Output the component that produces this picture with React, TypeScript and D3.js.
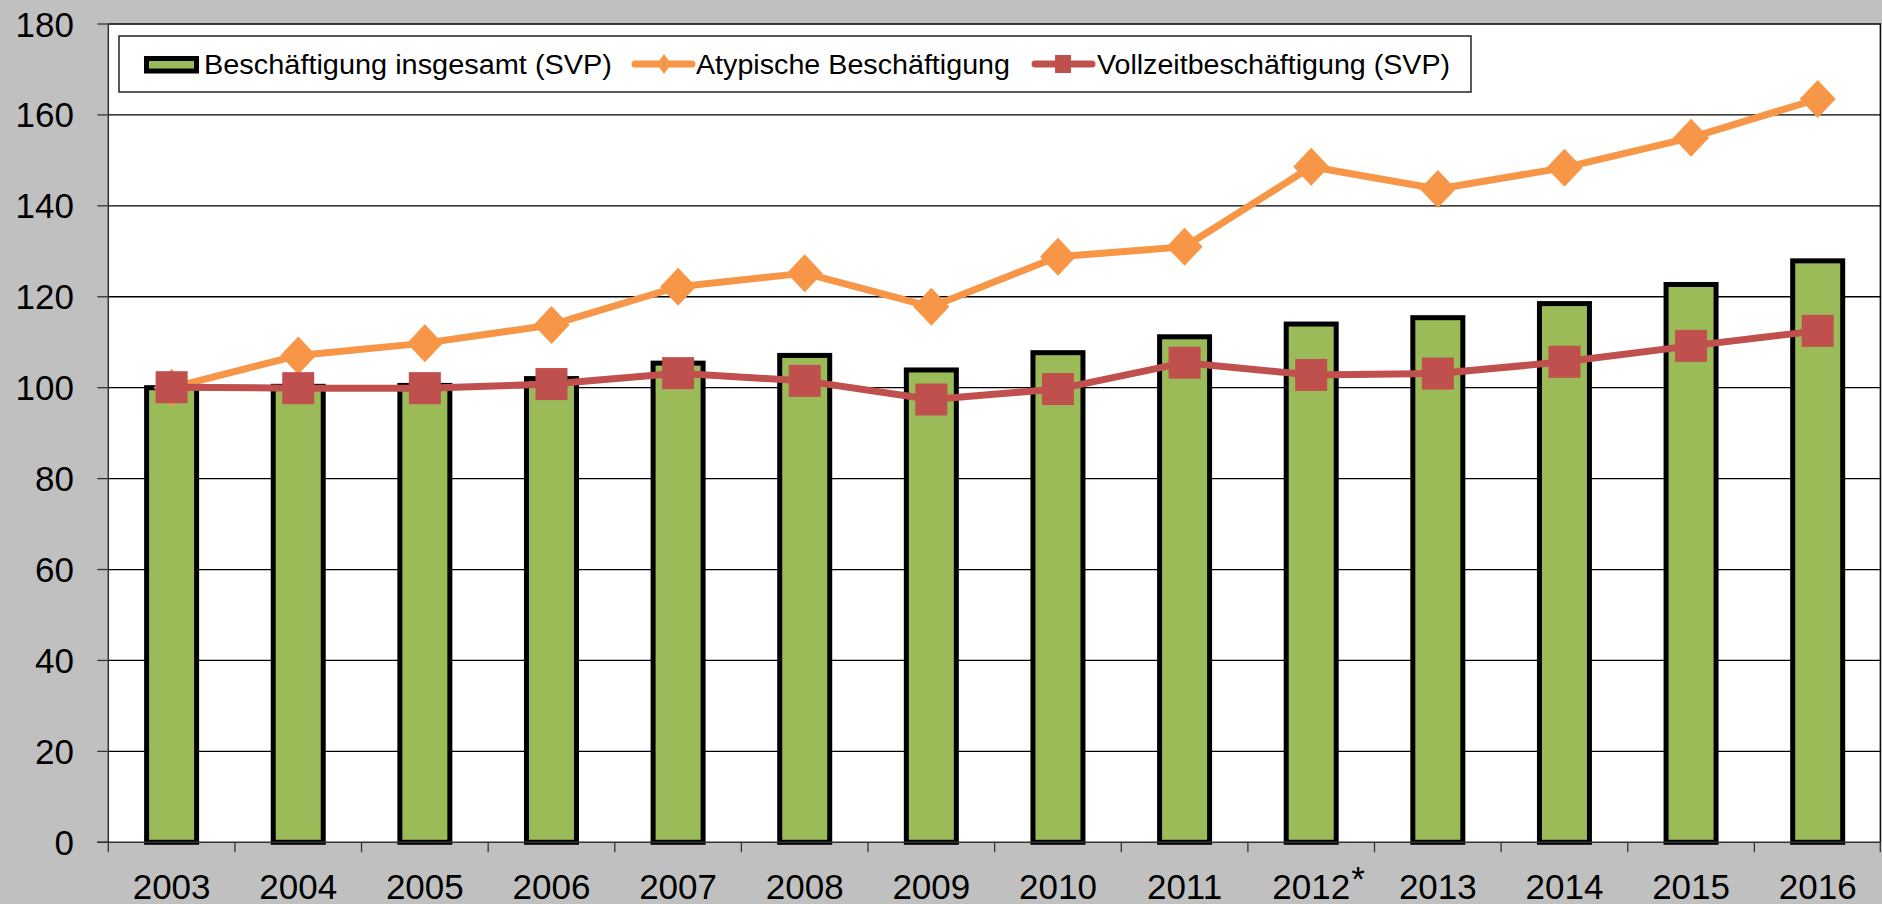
import React, { useEffect, useRef } from "react";
import * as d3 from "d3";

// Index values, 2003 = 100
const years: string[] = [
  "2003", "2004", "2005", "2006", "2007", "2008", "2009",
  "2010", "2011", "2012", "2013", "2014", "2015", "2016",
];
const footnoteYears: string[] = ["2012"];

const beschaeftigungInsgesamt: number[] = [
  100, 100.3, 100.5, 102, 105.4, 107.1, 103.9,
  107.7, 111.2, 114, 115.4, 118.5, 122.7, 127.9,
];
const atypischeBeschaeftigung: number[] = [
  100, 107.1, 109.8, 113.8, 122.2, 125.2, 117.8,
  128.8, 131, 148.6, 143.7, 148.4, 155, 163.5,
];
const vollzeitBeschaeftigung: number[] = [
  100.1, 99.9, 99.9, 100.8, 103.2, 101.5, 97.4,
  99.7, 105.5, 102.8, 103.1, 105.7, 109.2, 112.5,
];

const yTicks: number[] = [0, 20, 40, 60, 80, 100, 120, 140, 160, 180];

const legendLabels: string[] = [
  "Beschäftigung insgesamt (SVP)",
  "Atypische Beschäftigung",
  "Vollzeitbeschäftigung (SVP)",
];

const GREEN = "#9bbb59";
const ORANGE = "#f79646";
const RED = "#c0504d";
const FONT = "'Liberation Sans', Arial, sans-serif";

const W = 1882;
const H = 904;

const App = () => {
  const svgRef = useRef<SVGSVGElement | null>(null);

  useEffect(() => {
    const root = d3.select(svgRef.current);
    root.selectAll("*").remove();

    const left = 108.3;
    const right = 1881;
    const top = 24;
    const bottom = 842.3;

    root
      .append("rect")
      .attr("width", W)
      .attr("height", H)
      .attr("fill", "#c0c0c0");

    const x = d3.scaleBand<string>().domain(years).range([left, right]).padding(0);
    const y = d3.scaleLinear().domain([0, 180]).range([bottom, top]);

    // plot area
    root
      .append("rect")
      .attr("x", left)
      .attr("y", top)
      .attr("width", right - left)
      .attr("height", bottom - top)
      .attr("fill", "#fff");

    // gridlines
    root
      .append("g")
      .selectAll("line")
      .data(yTicks.filter((d) => d > 0))
      .enter()
      .append("line")
      .attr("x1", left)
      .attr("x2", right)
      .attr("y1", (d) => y(d))
      .attr("y2", (d) => y(d))
      .attr("stroke", "#000")
      .attr("stroke-width", 1.3);

    // right border
    root
      .append("line")
      .attr("x1", right - 0.7)
      .attr("x2", right - 0.7)
      .attr("y1", top)
      .attr("y2", bottom)
      .attr("stroke", "#000")
      .attr("stroke-width", 1.3);

    // y axis
    const yAxis = root.append("g");
    yAxis
      .append("line")
      .attr("x1", left)
      .attr("x2", left)
      .attr("y1", top)
      .attr("y2", bottom)
      .attr("stroke", "#333")
      .attr("stroke-width", 1.5);
    yAxis
      .selectAll(".tick")
      .data(yTicks)
      .enter()
      .append("line")
      .attr("x1", left - 11)
      .attr("x2", left)
      .attr("y1", (d) => y(d))
      .attr("y2", (d) => y(d))
      .attr("stroke", "#333")
      .attr("stroke-width", 1.3);
    yAxis
      .selectAll("text")
      .data(yTicks)
      .enter()
      .append("text")
      .attr("x", 74)
      .attr("y", (d) => y(d) + 12.5)
      .attr("text-anchor", "end")
      .style("font-family", FONT)
      .style("font-size", "35px")
      .attr("fill", "#000")
      .text((d) => d);

    // bars
    const barW = 50;
    root
      .append("g")
      .selectAll("rect")
      .data(years)
      .enter()
      .append("rect")
      .attr("x", (d) => x(d)! + x.bandwidth() / 2 - barW / 2)
      .attr("y", (d, i) => y(beschaeftigungInsgesamt[i]))
      .attr("width", barW)
      .attr("height", (d, i) => bottom - y(beschaeftigungInsgesamt[i]))
      .attr("fill", GREEN)
      .attr("stroke", "#000")
      .attr("stroke-width", 5);

    // x axis
    const xAxis = root.append("g");
    xAxis
      .append("line")
      .attr("x1", left - 11)
      .attr("x2", right)
      .attr("y1", bottom)
      .attr("y2", bottom)
      .attr("stroke", "#333")
      .attr("stroke-width", 1.5);
    const boundaries = years.map((d) => x(d)!).concat([right - 0.7]);
    xAxis
      .selectAll(".xt")
      .data(boundaries)
      .enter()
      .append("line")
      .attr("x1", (d) => d)
      .attr("x2", (d) => d)
      .attr("y1", bottom)
      .attr("y2", bottom + 10)
      .attr("stroke", "#333")
      .attr("stroke-width", 1.3);
    xAxis
      .selectAll(".xl")
      .data(years)
      .enter()
      .append("text")
      .attr("x", (d) => x(d)! + x.bandwidth() / 2)
      .attr("y", 899)
      .attr("text-anchor", "middle")
      .style("font-family", FONT)
      .style("font-size", "35px")
      .attr("fill", "#000")
      .text((d) => d);
    xAxis
      .selectAll(".fn")
      .data(years.filter((d) => footnoteYears.includes(d)))
      .enter()
      .append("text")
      .attr("x", (d) => x(d)! + x.bandwidth() / 2 + 40)
      .attr("y", 891)
      .style("font-family", FONT)
      .style("font-size", "35px")
      .attr("fill", "#000")
      .text("*");

    // lines
    const line = d3
      .line<number>()
      .x((d, i) => x(years[i])! + x.bandwidth() / 2)
      .y((d) => y(d));

    root
      .append("path")
      .datum(atypischeBeschaeftigung)
      .attr("d", line)
      .attr("fill", "none")
      .attr("stroke", ORANGE)
      .attr("stroke-width", 7)
      .attr("stroke-linejoin", "round");

    const diamond = (cx: number, cy: number, hw: number, hh: number) =>
      `M${cx},${cy - hh}L${cx + hw},${cy}L${cx},${cy + hh}L${cx - hw},${cy}Z`;

    root
      .append("g")
      .selectAll("path")
      .data(atypischeBeschaeftigung)
      .enter()
      .append("path")
      .attr("d", (d, i) => diamond(x(years[i])! + x.bandwidth() / 2, y(d), 18, 19))
      .attr("fill", ORANGE);

    root
      .append("path")
      .datum(vollzeitBeschaeftigung)
      .attr("d", line)
      .attr("fill", "none")
      .attr("stroke", RED)
      .attr("stroke-width", 7)
      .attr("stroke-linejoin", "round");

    const sq = 32;
    root
      .append("g")
      .selectAll("rect")
      .data(vollzeitBeschaeftigung)
      .enter()
      .append("rect")
      .attr("x", (d, i) => x(years[i])! + x.bandwidth() / 2 - sq / 2)
      .attr("y", (d) => y(d) - sq / 2)
      .attr("width", sq)
      .attr("height", sq)
      .attr("fill", RED);

    // legend
    const legend = root.append("g");
    legend
      .append("rect")
      .attr("x", 119)
      .attr("y", 36)
      .attr("width", 1471 - 119)
      .attr("height", 56)
      .attr("fill", "#fff")
      .attr("stroke", "#000")
      .attr("stroke-width", 1.3);

    const ly = 64;
    legend
      .append("rect")
      .attr("x", 146.5)
      .attr("y", 58.5)
      .attr("width", 50)
      .attr("height", 12.5)
      .attr("fill", GREEN)
      .attr("stroke", "#000")
      .attr("stroke-width", 5);

    legend
      .append("line")
      .attr("x1", 635)
      .attr("x2", 692)
      .attr("y1", ly)
      .attr("y2", ly)
      .attr("stroke", ORANGE)
      .attr("stroke-width", 7)
      .attr("stroke-linecap", "round");
    legend
      .append("path")
      .attr("d", diamond(664, ly, 7, 10))
      .attr("fill", ORANGE);

    legend
      .append("line")
      .attr("x1", 1035)
      .attr("x2", 1092)
      .attr("y1", ly)
      .attr("y2", ly)
      .attr("stroke", RED)
      .attr("stroke-width", 7)
      .attr("stroke-linecap", "round");
    legend
      .append("rect")
      .attr("x", 1055)
      .attr("y", ly - 9)
      .attr("width", 16)
      .attr("height", 18)
      .attr("fill", RED);

    const textX = [204, 696, 1097];
    const textLen = [408, 314, 353];
    legend
      .selectAll("text")
      .data(legendLabels)
      .enter()
      .append("text")
      .attr("x", (d, i) => textX[i])
      .attr("y", 73.5)
      .attr("textLength", (d, i) => textLen[i])
      .attr("lengthAdjust", "spacingAndGlyphs")
      .style("font-family", FONT)
      .style("font-size", "27px")
      .attr("fill", "#000")
      .text((d) => d);
  }, []);

  return (
    <svg
      ref={svgRef}
      width={W}
      height={H}
      style={{ position: "absolute", left: 0, top: 0, display: "block" }}
    />
  );
};

export default App;
